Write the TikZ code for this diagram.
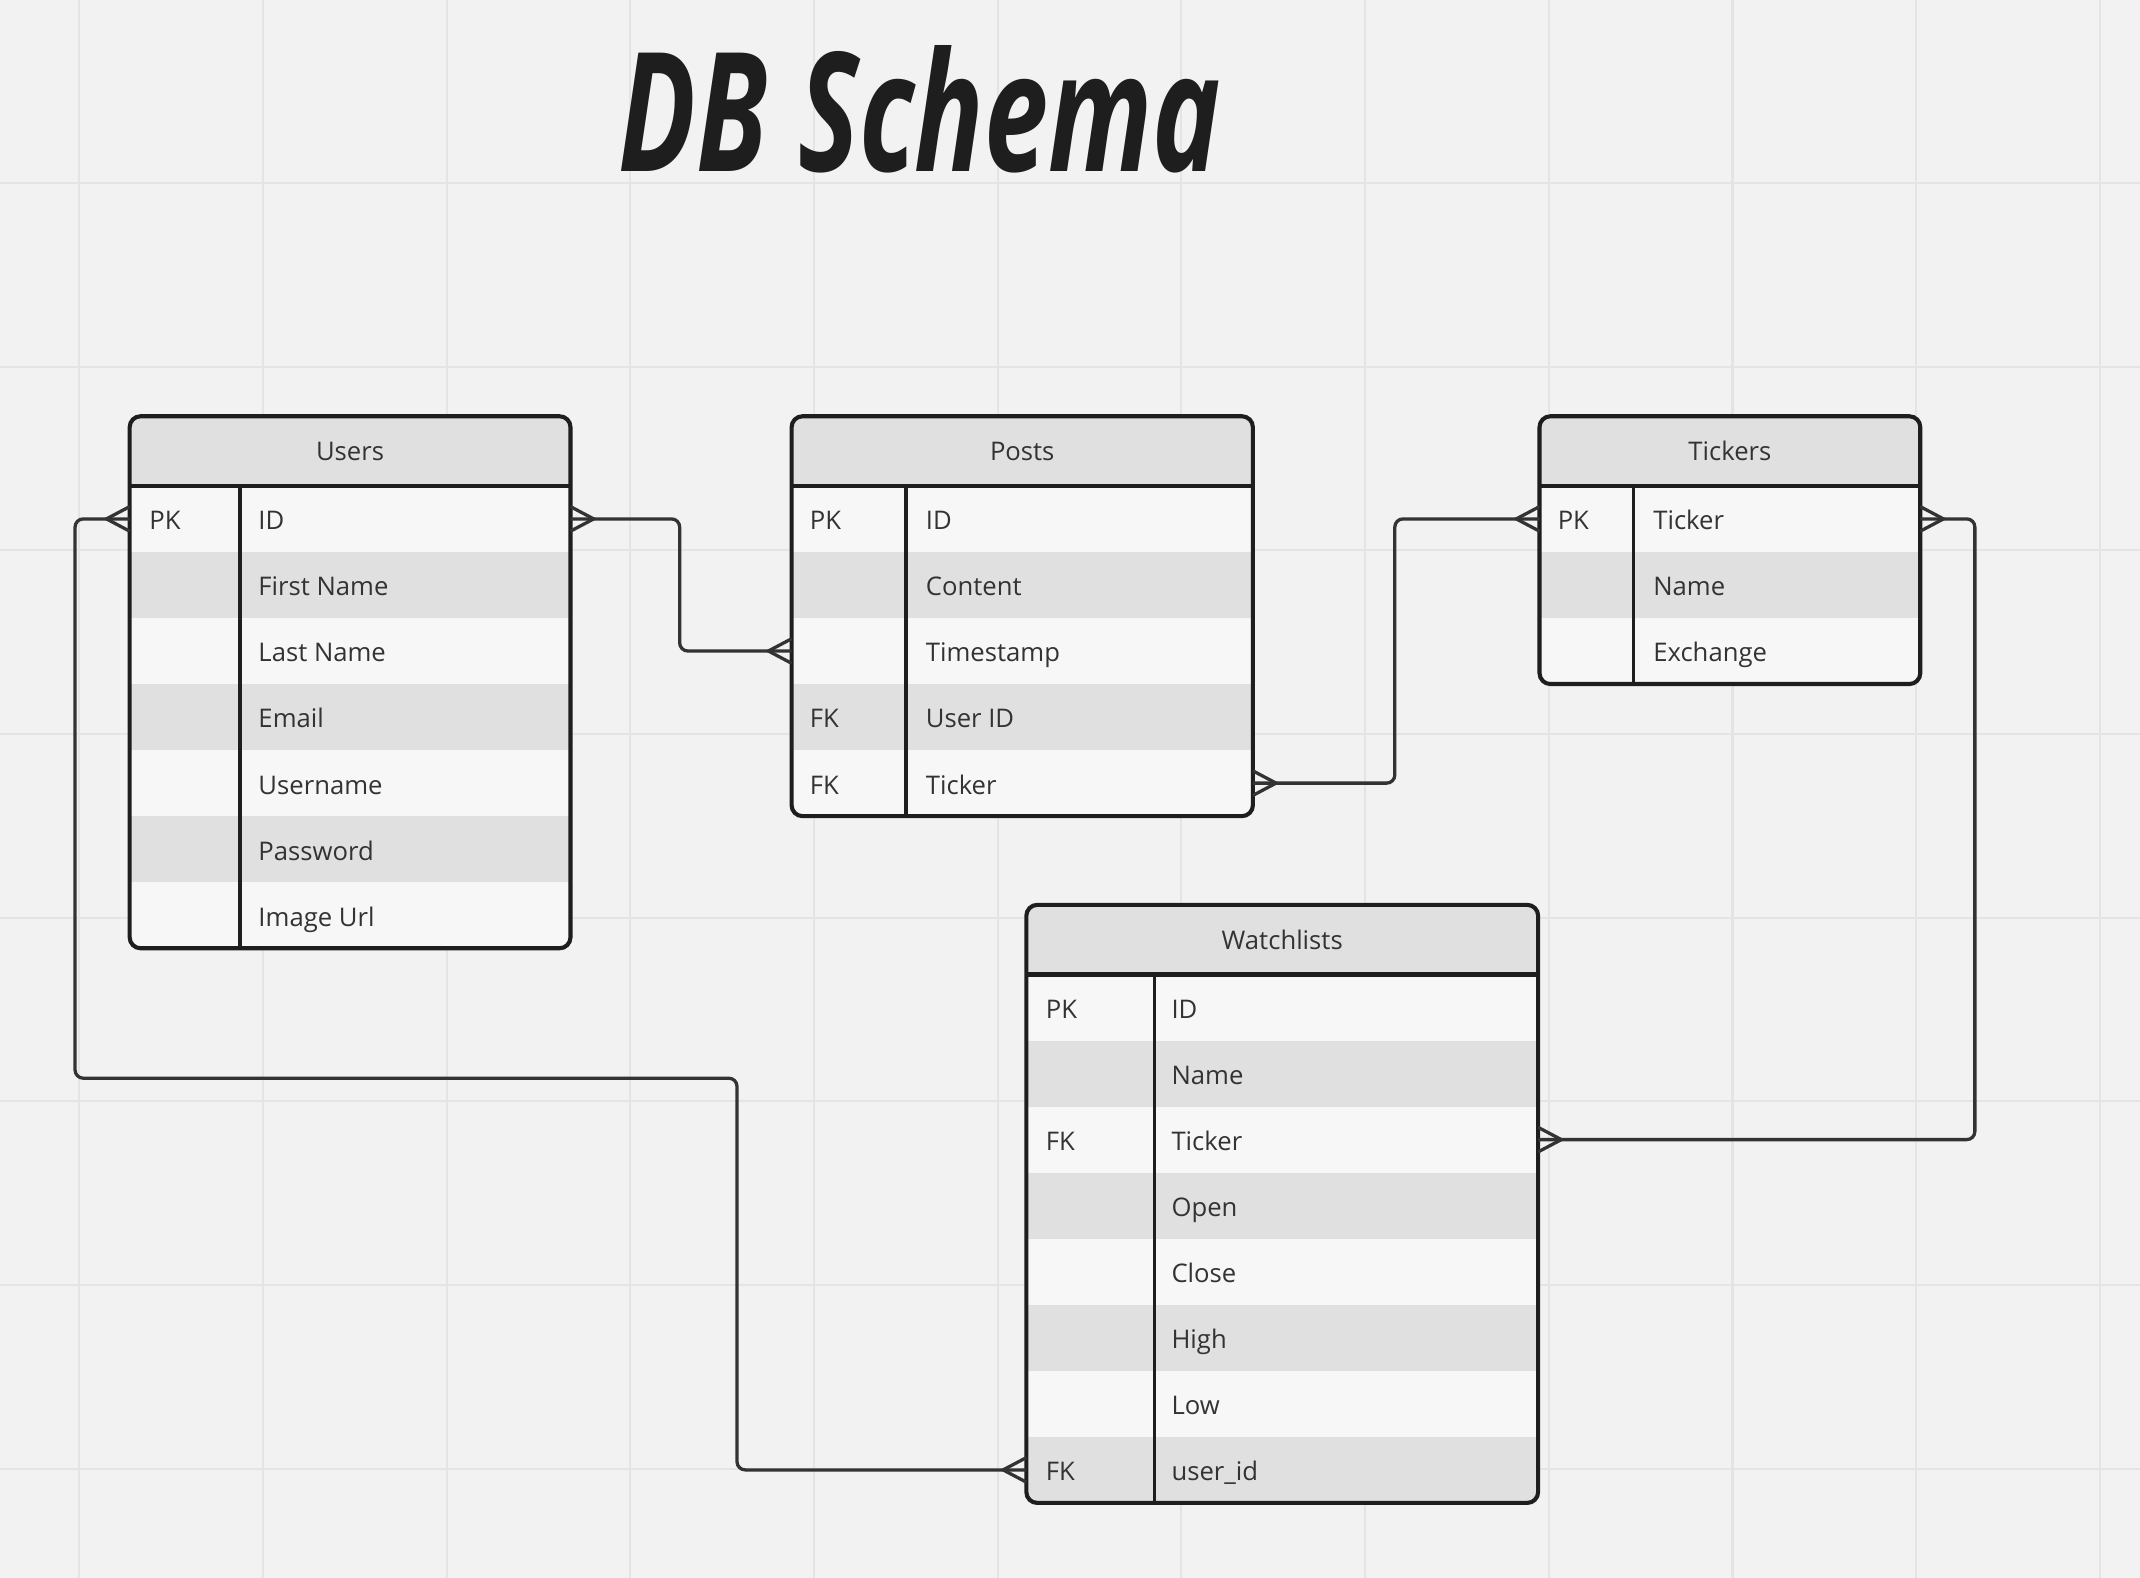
\documentclass[tikz,border=0pt]{standalone}
\usepackage{fontspec}
\setmainfont{Open Sans}
\usepackage{tikz}
\usetikzlibrary{arrows,shapes}
\usetikzlibrary{positioning}
\usetikzlibrary{calc}
\definecolor{canvas}{HTML}{F2F2F2}
\definecolor{gridgray}{HTML}{E4E4E4}
\definecolor{rowlight}{HTML}{F7F7F7}
\definecolor{rowdark}{HTML}{E0E0E0}
\definecolor{edge}{HTML}{1E1E1E}
\definecolor{ink}{HTML}{333333}
\tikzset{
    gridline/.style={draw=gridgray, line width=0.75pt},
    tabhead/.style={fill=rowdark, text=ink, inner sep=0pt, outer sep=0pt,
        minimum height=25.5pt, font=\fontsize{9.4pt}{12pt}\selectfont},
    row1/.style={fill=rowlight, inner sep=0pt, outer sep=0pt, minimum height=24.2pt},
    row0/.style={fill=rowdark, inner sep=0pt, outer sep=0pt, minimum height=24.2pt},
    celltext/.style={anchor=base west, inner sep=0pt, text=ink,
        font=\fontsize{9.4pt}{12pt}\selectfont},
    frame/.style={draw=edge, line width=1.5pt, rounded corners=4pt},
    headline/.style={draw=edge, line width=1.5pt},
    divider/.style={draw=edge, line width=1.3pt},
    link/.style={draw=ink, line width=1.2pt, rounded corners=3pt},
    crowfoot/.pic={\draw[draw=ink, line width=1.2pt] (0,-9) -- (17,0) -- (0,9);},
}
\begin{document}
\begin{tikzpicture}[x=0.5pt, y=-0.5pt]
	\fill[canvas] (0,0) rectangle (1568,1156);
	\useasboundingbox (0,0) rectangle (1568,1156);
	\foreach \g in {0,...,11} \draw[gridline] ({58+134.6*\g},0) -- ({58+134.6*\g},1156);
	\foreach \g in {0,...,8} \draw[gridline] (0,{-0.6+134.6*\g}) -- (1568,{-0.6+134.6*\g});
	\node[text=edge] (title) at (674,80) {\scalebox{0.68}[0.98]{\fontsize{62pt}{70pt}\selectfont\bfseries\itshape DB Schema}};
% Users
\begin{scope}
	\clip[rounded corners=4pt] (95,305) rectangle (418,695);
	\node[tabhead, minimum width=161.5pt] (users) at (256.5,330.5) {Users};
	\foreach \k/\f [count=\i] in {PK/ID, /First Name, /Last Name, /Email, /Username, /Password, /Image Url}{
		\pgfmathsetmacro\yy{331.8+48.4*\i}
		\pgfmathtruncatemacro\odd{mod(\i,2)}
		\node[row\odd, minimum width=161.5pt] (users-\i) at (256.5,\yy) {};
		\node[celltext] (users-k\i) at (109,\yy+8) {\k};
		\node[celltext] (users-f\i) at (189,\yy+8) {\f};
	}
\end{scope}
	\draw[frame] (users.north west) rectangle (users-7.south east);
	\draw[headline] (users.south west) -- (users.south east);
	\draw[divider] (176,356) -- (176,695);
% Posts
\begin{scope}
	\clip[rounded corners=4pt] (580,305) rectangle (918,598);
	\node[tabhead, minimum width=169pt] (posts) at (749,330.5) {Posts};
	\foreach \k/\f [count=\i] in {PK/ID, /Content, /Timestamp, FK/User ID, FK/Ticker}{
		\pgfmathsetmacro\yy{331.8+48.4*\i}
		\pgfmathtruncatemacro\odd{mod(\i,2)}
		\node[row\odd, minimum width=169pt] (posts-\i) at (749,\yy) {};
		\node[celltext] (posts-k\i) at (593,\yy+8) {\k};
		\node[celltext] (posts-f\i) at (678,\yy+8) {\f};
	}
\end{scope}
	\draw[frame] (posts.north west) rectangle (posts-5.south east);
	\draw[headline] (posts.south west) -- (posts.south east);
	\draw[divider] (664,356) -- (664,598);
% Tickers
\begin{scope}
	\clip[rounded corners=4pt] (1128,305) rectangle (1407,501.2);
	\node[tabhead, minimum width=139.5pt] (tick) at (1267.5,330.5) {Tickers};
	\foreach \k/\f [count=\i] in {PK/Ticker, /Name, /Exchange}{
		\pgfmathsetmacro\yy{331.8+48.4*\i}
		\pgfmathtruncatemacro\odd{mod(\i,2)}
		\node[row\odd, minimum width=139.5pt] (tick-\i) at (1267.5,\yy) {};
		\node[celltext] (tick-k\i) at (1141,\yy+8) {\k};
		\node[celltext] (tick-f\i) at (1211,\yy+8) {\f};
	}
\end{scope}
	\draw[frame] (tick.north west) rectangle (tick-3.south east);
	\draw[headline] (tick.south west) -- (tick.south east);
	\draw[divider] (1197,356) -- (1197,501.2);
% Watchlists
\begin{scope}
	\clip[rounded corners=4pt] (752,663) rectangle (1127,1101.2);
	\node[tabhead, minimum width=187.5pt] (watch) at (939.5,688.5) {Watchlists};
	\foreach \k/\f [count=\i] in {PK/ID, /Name, FK/Ticker, /Open, /Close, /High, /Low, FK/user\_id}{
		\pgfmathsetmacro\yy{689.8+48.4*\i}
		\pgfmathtruncatemacro\odd{mod(\i,2)}
		\node[row\odd, minimum width=187.5pt] (watch-\i) at (939.5,\yy) {};
		\node[celltext] (watch-k\i) at (766,\yy+8) {\k};
		\node[celltext] (watch-f\i) at (858,\yy+8) {\f};
	}
\end{scope}
	\draw[frame] (watch.north west) rectangle (watch-8.south east);
	\draw[headline] (watch.south west) -- (watch.south east);
	\draw[divider] (846,714) -- (846,1101.2);
% relations
	\coordinate (bendA) at (55,790);
	\coordinate (bendB) at (540,790);
	\draw[link] (users-1.east) -- ++(80,0) |- (posts-3.west);
	\draw[link] (posts-5.east) -- ++(104,0) |- (tick-1.west);
	\draw[link] (tick-1.east) -- ++(40,0) |- (watch-3.east);
	\draw[link] (users-1.west) -| (bendA) -- (bendB) |- (watch-8.west);
	\pic at (users-1.east) {crowfoot};
	\pic[xscale=-1] at (users-1.west) {crowfoot};
	\pic[xscale=-1] at (posts-3.west) {crowfoot};
	\pic at (posts-5.east) {crowfoot};
	\pic[xscale=-1] at (tick-1.west) {crowfoot};
	\pic at (tick-1.east) {crowfoot};
	\pic at (watch-3.east) {crowfoot};
	\pic[xscale=-1] at (watch-8.west) {crowfoot};
\end{tikzpicture}
\end{document}
